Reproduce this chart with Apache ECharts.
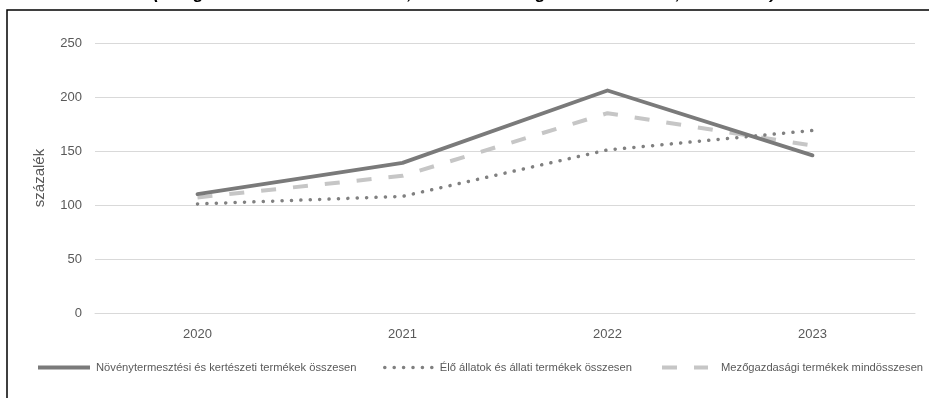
<!DOCTYPE html>
<html>
<head>
<meta charset="utf-8">
<script src="https://cdn.jsdelivr.net/npm/echarts@6/dist/echarts.min.js"></script>
<style>
  html, body { margin: 0; padding: 0; background: #fff; }
  #chart { width: 929px; height: 398px; }
</style>
</head>
<body>
<div id="chart"></div>
<script>
// Years on the category axis
const years = ['2020', '2021', '2022', '2023'];

// Price index series (percent)
const novenytermesztes = [110, 139, 206, 146];
const eloAllatok = [101, 108, 151, 169];
const mindosszesen = [107, 127, 185, 155];

// Value axis ticks
const yMin = 0;
const yMax = 250;
const yStep = 50;

const seriesNames = [
  'Növénytermesztési és kertészeti termékek összesen',
  'Élő állatok és állati termékek összesen',
  'Mezőgazdasági termékek mindösszesen'
];

const titleText = '(Az ágazatok termelői árindexei, a 2019. évi átlagár százalékában, 2020–2023)';

const FONT = '"Liberation Sans", "DejaVu Sans", sans-serif';
const TXT = '#595959';

const chart = echarts.init(document.getElementById('chart'), null, { renderer: 'canvas' });

const legendText = { fontFamily: FONT, fontSize: 11.2, color: TXT };
const legendBase = {
  top: 357,
  itemHeight: 10,
  itemStyle: { opacity: 0 },
  selectedMode: false
};

chart.setOption({
  animation: false,
  backgroundColor: '#ffffff',
  graphic: [
    {
      type: 'text',
      left: 'center',
      top: -14,
      style: {
        text: titleText,
        font: 'italic bold 17px ' + FONT,
        fill: '#000'
      }
    },
    {
      type: 'rect',
      shape: { x: 7, y: 10, width: 1000, height: 500 },
      style: { fill: 'none', stroke: '#000', lineWidth: 1.5 },
      silent: true
    }
  ],
  grid: { left: 95, right: 14, top: 43, height: 270, containLabel: false },
  legend: [
    Object.assign({}, legendBase, { left: 31, itemWidth: 52, data: [seriesNames[0]],
      lineStyle: { width: 4, cap: 'butt' },
      textStyle: Object.assign({}, legendText, { padding: [0, 0, 0, 1] }) }),
    Object.assign({}, legendBase, { left: 378, itemWidth: 50, data: [seriesNames[1]],
      lineStyle: { width: 3.5 },
      textStyle: Object.assign({}, legendText, { padding: [0, 0, 0, 0] }) }),
    Object.assign({}, legendBase, { left: 655, itemWidth: 46, data: [seriesNames[2]],
      lineStyle: { width: 4 },
      textStyle: Object.assign({}, legendText, { padding: [0, 0, 0, 8] }) })
  ],
  xAxis: {
    type: 'category',
    data: years,
    boundaryGap: true,
    axisLine: { show: true, lineStyle: { color: '#d9d9d9', width: 1 } },
    axisTick: { show: false },
    axisLabel: { fontFamily: FONT, fontSize: 13, color: TXT, margin: 15 }
  },
  yAxis: {
    type: 'value',
    min: yMin,
    max: yMax,
    interval: yStep,
    name: 'százalék',
    nameLocation: 'middle',
    nameGap: 48,
    nameRotate: 90,
    nameTextStyle: { fontFamily: FONT, fontSize: 15, color: TXT },
    axisLine: { show: false },
    axisTick: { show: false },
    axisLabel: { fontFamily: FONT, fontSize: 13, color: TXT, margin: 13 },
    splitLine: { lineStyle: { color: '#d9d9d9', width: 1 } }
  },
  series: [
    {
      name: seriesNames[0],
      type: 'line',
      data: novenytermesztes,
      symbol: 'none',
      z: 3,
      lineStyle: { color: '#7a7a7a', width: 3.8, cap: 'round', join: 'round' },
      itemStyle: { color: '#7a7a7a' }
    },
    {
      name: seriesNames[1],
      type: 'line',
      data: eloAllatok,
      symbol: 'none',
      z: 2,
      lineStyle: { color: '#808080', width: 3.5, type: [0.1, 9.3], cap: 'round' },
      itemStyle: { color: '#808080' }
    },
    {
      name: seriesNames[2],
      type: 'line',
      data: mindosszesen,
      symbol: 'none',
      z: 1,
      lineStyle: { color: '#c6c6c6', width: 4, type: [15, 17], cap: 'butt' },
      itemStyle: { color: '#c6c6c6' }
    }
  ]
});
</script>
</body>
</html>
